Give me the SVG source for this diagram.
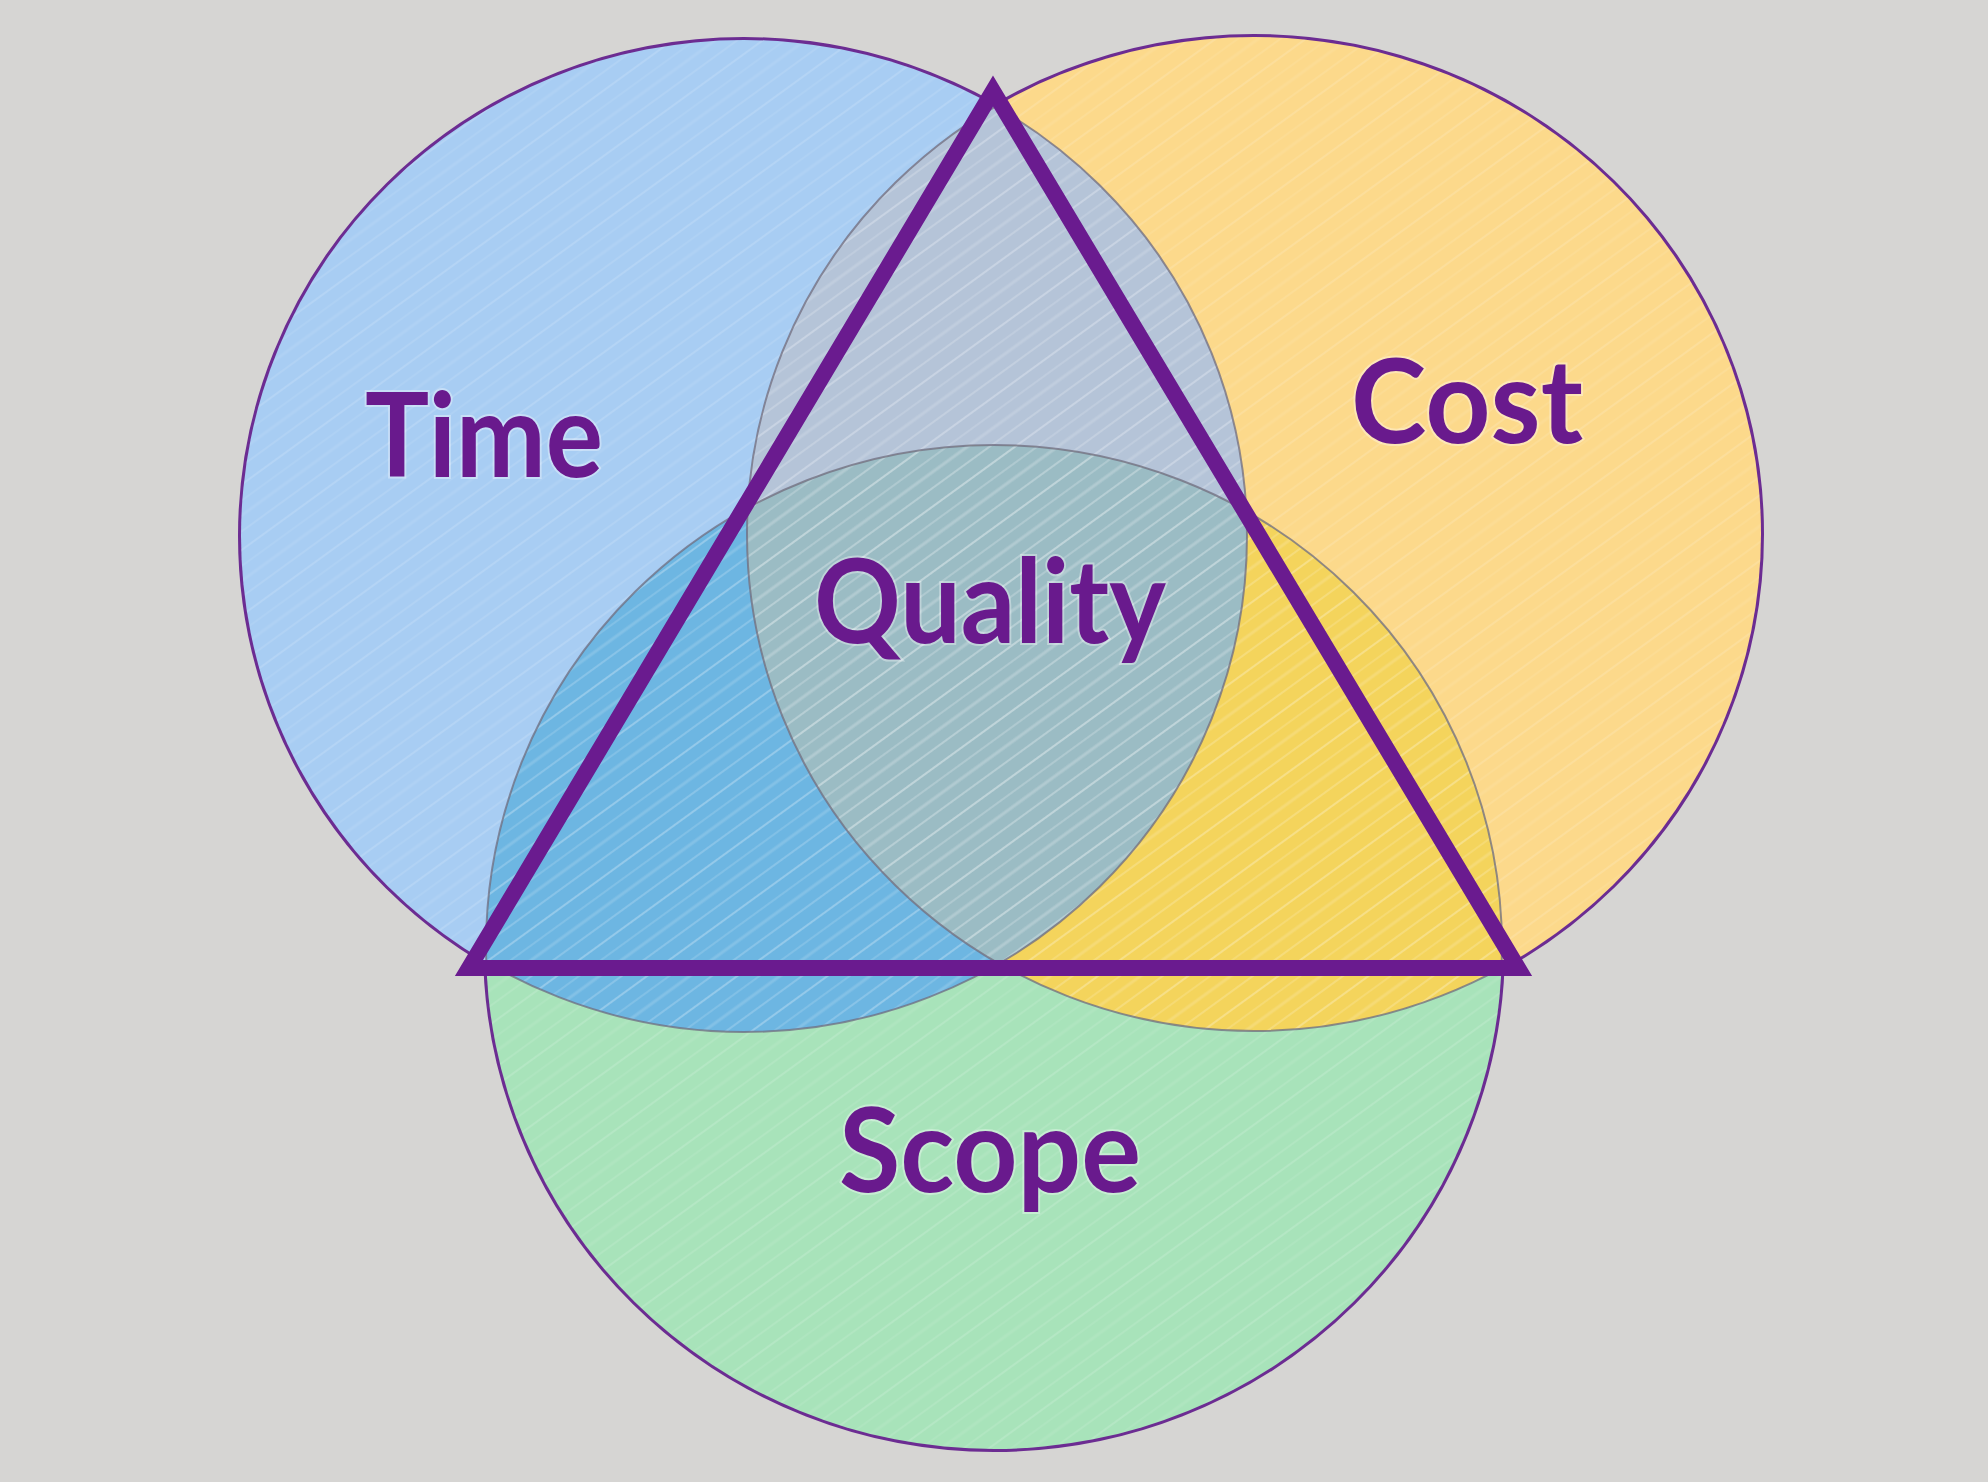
<svg xmlns="http://www.w3.org/2000/svg" width="1988" height="1482" viewBox="0 0 1988 1482">
  <defs>
    <style>
      .outer { fill: none; stroke: #6c2c92; stroke-width: 6; }
      .inner { fill: none; stroke: #6f6c80; stroke-width: 2; opacity: 0.75; }
      .label { font-family: "Lato", "Open Sans", "Liberation Sans", sans-serif; font-weight: 700; font-size: 116px; fill: #691a8d; text-anchor: middle; stroke: #ffffff; stroke-opacity: 0.35; stroke-width: 4; paint-order: stroke; }
      .tri { fill: none; stroke: #6a1b8f; stroke-width: 16; stroke-linejoin: miter; stroke-miterlimit: 10; }
    </style>
    <ellipse id="eTime" cx="744" cy="536" rx="503" ry="496"/>
    <ellipse id="eCost" cx="1254" cy="534" rx="507" ry="497"/>
    <ellipse id="eScope" cx="994" cy="947" rx="508" ry="502"/>
    <clipPath id="cTime"><use href="#eTime"/></clipPath>
    <clipPath id="cCost"><use href="#eCost"/></clipPath>
    <clipPath id="cScope"><use href="#eScope"/></clipPath>
    <clipPath id="cCostScope"><use href="#eCost"/><use href="#eScope"/></clipPath>
    <clipPath id="cTimeScope"><use href="#eTime"/><use href="#eScope"/></clipPath>
    <clipPath id="cTimeCost"><use href="#eTime"/><use href="#eCost"/></clipPath>
    <pattern id="hatch" width="53" height="53" patternUnits="userSpaceOnUse" patternTransform="rotate(-36)">
      <line x1="0" y1="4" x2="53" y2="4" stroke="#ffffff" stroke-width="2" stroke-opacity="0.14"/>
      <line x1="0" y1="17" x2="53" y2="17" stroke="#ffffff" stroke-width="1.5" stroke-opacity="0.09"/>
      <line x1="0" y1="29" x2="53" y2="29" stroke="#ffffff" stroke-width="3" stroke-opacity="0.08"/>
      <line x1="0" y1="42" x2="53" y2="42" stroke="#ffffff" stroke-width="1.5" stroke-opacity="0.13"/>
    </pattern>
  </defs>

  <rect x="0" y="0" width="1988" height="1482" fill="#d6d5d3"/>

  <!-- outer purple outlines (outer half remains visible) -->
  <use href="#eTime" class="outer"/>
  <use href="#eCost" class="outer"/>
  <use href="#eScope" class="outer"/>

  <g id="node-time">
    <use href="#eTime" fill="#a8cdf3"/>
  </g>
  <g id="node-cost">
    <use href="#eCost" fill="#fcd98b"/>
  </g>
  <g id="node-scope">
    <use href="#eScope" fill="#a8e3ba"/>
  </g>

  <g id="overlaps">
    <use href="#eCost" fill="#b5c4d8" clip-path="url(#cTime)"/>
    <use href="#eScope" fill="#6db6e2" clip-path="url(#cTime)"/>
    <use href="#eScope" fill="#f4d45c" clip-path="url(#cCost)"/>
    <g clip-path="url(#cTime)">
      <use href="#eScope" fill="#9bbcc4" clip-path="url(#cCost)"/>
    </g>
  </g>

  <!-- pencil texture -->
  <g>
    <use href="#eTime" fill="url(#hatch)"/>
    <use href="#eCost" fill="url(#hatch)"/>
    <use href="#eScope" fill="url(#hatch)"/>
  </g>

  <!-- inner arcs -->
  <g id="inner-arcs">
    <use href="#eTime" class="inner" clip-path="url(#cCostScope)"/>
    <use href="#eCost" class="inner" clip-path="url(#cTimeScope)"/>
    <use href="#eScope" class="inner" clip-path="url(#cTimeCost)"/>
  </g>

  <g id="node-quality">
    <path class="tri" d="M 993 91 L 1518 968 L 469 968 Z"/>
    <text class="label" x="990" y="643" textLength="352" lengthAdjust="spacingAndGlyphs">Quality</text>
  </g>

  <g id="labels">
    <text class="label" x="484" y="477" textLength="238" lengthAdjust="spacingAndGlyphs">Time</text>
    <text class="label" x="1467" y="443" textLength="232" lengthAdjust="spacingAndGlyphs">Cost</text>
    <text class="label" x="990" y="1192" textLength="302" lengthAdjust="spacingAndGlyphs">Scope</text>
  </g>

  <g id="connectors"></g>
</svg>
